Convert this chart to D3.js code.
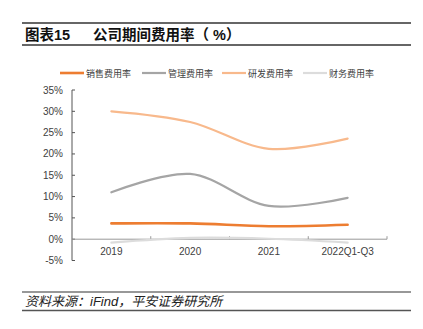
<!DOCTYPE html>
<html lang="zh">
<head>
<meta charset="UTF-8">
<title>公司期间费用率</title>
<script src="https://cdn.jsdelivr.net/npm/d3@7"></script>
<style>
  body { margin: 0; background: #fff; }
  text { font-family: "Liberation Sans", Arial, "Noto Sans CJK SC", sans-serif; }
</style>
</head>
<body>
<script>
var w = 423, h = 329;

var years = ["2019", "2020", "2021", "2022Q1-Q3"];
var yTicks = [-5, 0, 5, 10, 15, 20, 25, 30, 35];
var seriesNames = ["销售费用率", "管理费用率", "研发费用率", "财务费用率"];
var seriesColors = ["#ED7D31", "#A5A5A5", "#F8B98C", "#DCDCDC"];
var sales   = [3.7, 3.7, 3.05, 3.4];
var admin   = [11.0, 15.3, 7.8, 9.7];
var rnd     = [30.0, 27.5, 21.2, 23.6];
var finance = [-0.8, 0.3, 0.1, -0.8];
var allSeries = [sales, admin, rnd, finance];

var svg = d3.select("body").append("svg")
    .attr("width", w)
    .attr("height", h);

// title block with rules above and below
svg.append("line").attr("x1", 22).attr("x2", 411).attr("y1", 23).attr("y2", 23)
    .attr("stroke", "#333").attr("stroke-width", 1.5);
svg.append("line").attr("x1", 22).attr("x2", 411).attr("y1", 45).attr("y2", 45)
    .attr("stroke", "#333").attr("stroke-width", 1.5);
svg.append("text").attr("x", 25).attr("y", 40)
    .attr("font-size", "14.5px").attr("font-weight", "bold").attr("fill", "#111")
    .text("图表15");
svg.append("text").attr("x", 93).attr("y", 40)
    .attr("font-size", "14.5px").attr("font-weight", "bold").attr("fill", "#111")
    .text("公司期间费用率（ %）");

// plot area
var x = d3.scaleBand().domain(years).range([72, 387]);
var y = d3.scaleLinear().domain([-5, 35]).range([260.5, 90]);

// y axis
var yAxis = svg.append("g");
yAxis.append("line").attr("x1", 72).attr("x2", 72)
    .attr("y1", y(35)).attr("y2", y(-5)).attr("stroke", "#555");
yAxis.selectAll("line.tick").data(yTicks).enter().append("line")
    .attr("class", "tick")
    .attr("x1", 72).attr("x2", 75)
    .attr("y1", function(d) { return y(d); })
    .attr("y2", function(d) { return y(d); })
    .attr("stroke", "#555");
yAxis.selectAll("text").data(yTicks).enter().append("text")
    .attr("x", 63)
    .attr("y", function(d) { return y(d) + 3.5; })
    .attr("text-anchor", "end")
    .attr("font-size", "10px")
    .attr("fill", "#404040")
    .text(function(d) { return d + "%"; });

// x axis sits on the 0% line
var xAxis = svg.append("g");
xAxis.append("line").attr("x1", 72).attr("x2", 387)
    .attr("y1", y(0)).attr("y2", y(0)).attr("stroke", "#999");
xAxis.selectAll("line.tick").data(years.slice(1).concat(["end"])).enter().append("line")
    .attr("class", "tick")
    .attr("x1", function(d, i) { return i < 3 ? x(d) : 387; })
    .attr("x2", function(d, i) { return i < 3 ? x(d) : 387; })
    .attr("y1", y(0)).attr("y2", y(0) - 3)
    .attr("stroke", "#999");
xAxis.selectAll("text").data(years).enter().append("text")
    .attr("x", function(d) { return x(d) + x.bandwidth() / 2; })
    .attr("y", 255)
    .attr("text-anchor", "middle")
    .attr("font-size", "10px")
    .attr("fill", "#404040")
    .text(function(d) { return d; });

// smoothed series lines
var line = d3.line()
    .x(function(d, i) { return x(years[i]) + x.bandwidth() / 2; })
    .y(function(d) { return y(d); })
    .curve(d3.curveCatmullRom.alpha(0.5));

var drawOrder = [3, 1, 2, 0];
drawOrder.forEach(function(k) {
    svg.append("path")
        .datum(allSeries[k])
        .attr("d", line)
        .attr("fill", "none")
        .attr("stroke", seriesColors[k])
        .attr("stroke-width", k === 0 ? 2.6 : 2.2)
        .attr("stroke-linecap", "round");
});

// legend
var legendX = [60, 142, 222, 303];
var legend = svg.selectAll("g.legend").data(seriesNames).enter().append("g")
    .attr("class", "legend")
    .attr("transform", function(d, i) { return "translate(" + legendX[i] + ",73)"; });
legend.append("line")
    .attr("x1", 0).attr("x2", 24).attr("y1", 0).attr("y2", 0)
    .attr("stroke", function(d, i) { return seriesColors[i]; })
    .attr("stroke-width", function(d, i) { return i === 0 ? 2.6 : 2.2; });
legend.append("text")
    .attr("x", 26).attr("y", 3.5)
    .attr("font-size", "9px")
    .attr("fill", "#404040")
    .text(function(d) { return d; });

// source note
svg.append("line").attr("x1", 22).attr("x2", 411).attr("y1", 292).attr("y2", 292)
    .attr("stroke", "#333").attr("stroke-width", 1.2);
svg.append("line").attr("x1", 22).attr("x2", 411).attr("y1", 310.5).attr("y2", 310.5)
    .attr("stroke", "#555").attr("stroke-width", 1.5);
svg.append("text").attr("x", 25).attr("y", 306)
    .attr("font-size", "13px").attr("font-style", "italic").attr("fill", "#222")
    .text("资料来源：iFind，平安证券研究所");
</script>
</body>
</html>
